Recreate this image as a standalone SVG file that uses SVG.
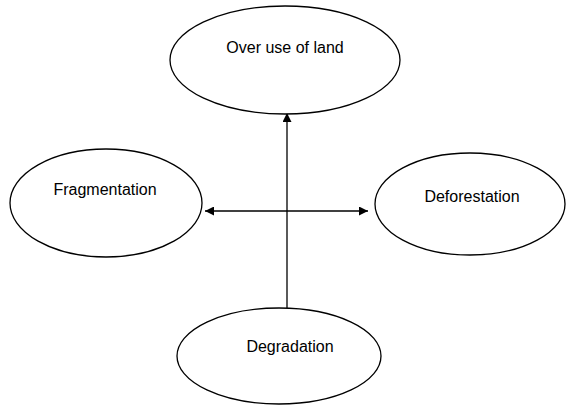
<svg xmlns="http://www.w3.org/2000/svg" width="566" height="405" viewBox="0 0 566 405">
<defs>
<style>
.n{fill:#fff;stroke:#000;stroke-width:1.3}
.t{font-family:"Liberation Sans",Arial,sans-serif;font-size:16px;fill:#000;text-anchor:middle}
.c{stroke:#000;stroke-width:1.3;fill:none}
</style>
<marker id="a" viewBox="0 0 10 10" refX="10" refY="5" markerWidth="9" markerHeight="9" markerUnits="userSpaceOnUse" orient="auto-start-reverse">
<path d="M0,0L10,5L0,10z" fill="#000"/>
</marker>
</defs>
<rect width="566" height="405" fill="#fff"/>
<g id="connectors">
<line class="c" x1="287" y1="308" x2="287" y2="113" marker-end="url(#a)"/>
<line class="c" x1="205" y1="211" x2="368" y2="211" marker-start="url(#a)" marker-end="url(#a)"/>
</g>
<g id="n1"><ellipse class="n" cx="285" cy="60" rx="115" ry="54"/><text class="t" x="285" y="53">Over use of land</text></g>
<g id="n2"><ellipse class="n" cx="106" cy="203" rx="96" ry="54"/><text class="t" x="105" y="195">Fragmentation</text></g>
<g id="n3"><ellipse class="n" cx="470" cy="204" rx="95" ry="51"/><text class="t" x="472" y="202">Deforestation</text></g>
<g id="n4"><ellipse class="n" cx="279" cy="356" rx="102" ry="48"/><text class="t" x="290" y="352">Degradation</text></g>
</svg>
